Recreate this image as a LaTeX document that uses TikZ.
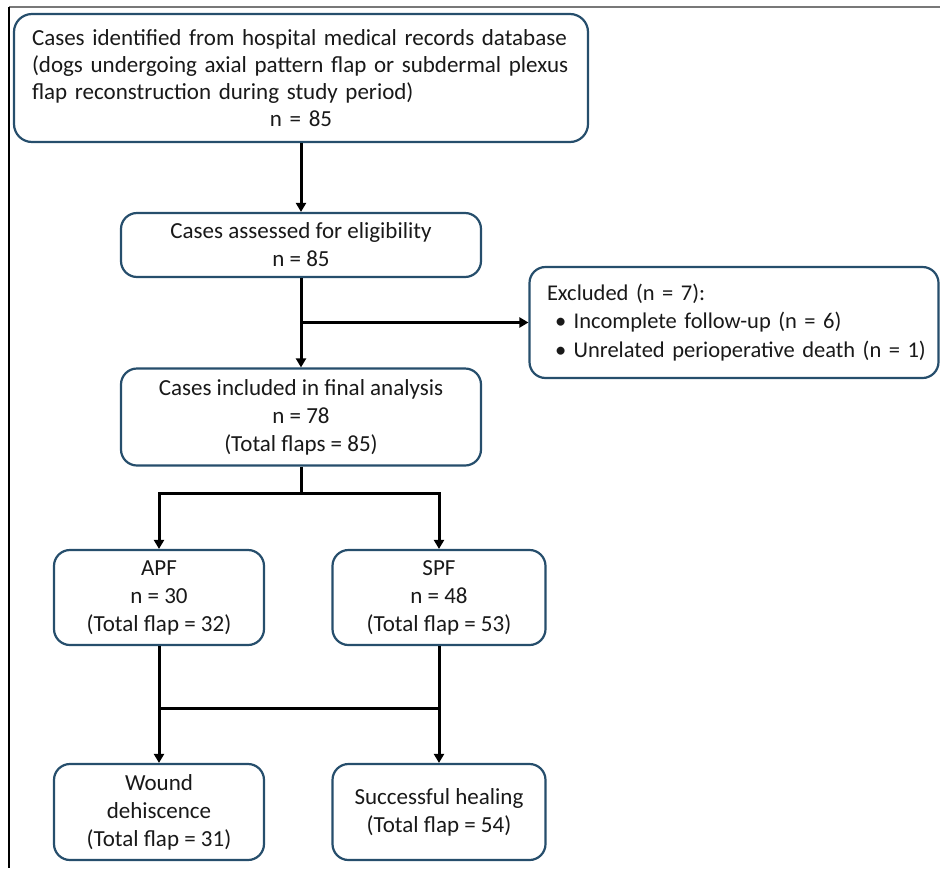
\documentclass[tikz,border=0pt]{standalone}
\usepackage{fontspec}
\setmainfont{Carlito}
\usetikzlibrary{arrows.meta}
\definecolor{boxblue}{RGB}{38,78,108}
\definecolor{framegray}{RGB}{120,120,120}
\begin{document}
\begin{tikzpicture}[x=1pt,y=-1pt,
  fbox/.style={draw=boxblue, line width=2.2pt, rounded corners=16pt, fill=white,
    inner sep=0pt, font=\fontsize{23}{28}\selectfont, align=center, text=black!90},
  conn/.style={line width=3pt, black},
  arr/.style={conn, -{Triangle[width=10pt,length=9pt]}}]
\useasboundingbox (0,0) rectangle (940,868);
% frame
\coordinate (ftl) at (9,7);
\coordinate (ftr) at (940,7);
\coordinate (fbl) at (9,868);
\draw[framegray, line width=1.8pt] (ftl) -- (ftr);
\draw[black, line width=1.4pt] (ftl) -- (fbl);
% boxes
\node[fbox, rounded corners=18pt, minimum width=574pt, minimum height=128pt, text width=538pt, align=left,
  font=\fontsize{23}{27}\selectfont] (b1) at (301,78)
  {Cases identified from hospital medical records database\\
   (dogs undergoing axial pattern flap or subdermal plexus\\
   flap reconstruction during study period)\\
   \makebox[\linewidth]{n = 85}};
\node[fbox, minimum width=360pt, minimum height=64pt] (b2) at (301,245)
  {Cases assessed for eligibility\\n = 85};
\node[fbox, minimum width=409pt, minimum height=111pt, text width=374pt, align=left,
  font=\fontsize{22.5}{28.5}\selectfont] (ex) at (734,322.5)
  {\mbox{Excluded (n = 7):}\\
   \mbox{\hspace*{8pt}• Incomplete follow-up (n = 6)}\\
   \mbox{\hspace*{8pt}• Unrelated perioperative death (n = 1)}};
\node[fbox, minimum width=360pt, minimum height=97pt] (b3) at (301,417)
  {Cases included in final analysis\\n = 78\\(Total flaps = 85)};
\node[fbox, minimum width=210pt, minimum height=95pt] (apf) at (159,597.5)
  {APF\\n = 30\\(Total flap = 32)};
\node[fbox, minimum width=213pt, minimum height=95pt] (spf) at (439,597.5)
  {SPF\\n = 48\\(Total flap = 53)};
\node[fbox, minimum width=210pt, minimum height=96pt] (wd) at (159,812)
  {Wound\\dehiscence\\(Total flap = 31)};
\node[fbox, minimum width=213pt, minimum height=96pt] (sh) at (439,812)
  {Successful healing\\(Total flap = 54)};
% connectors
\coordinate (j1) at (301,322.5);
\coordinate (j2) at (301,493);
\coordinate (m1) at (159,708);
\coordinate (m2) at (439,708);
\draw[arr] (b1.south) -- (b2.north);
\draw[arr] (b2.south) -- (b3.north);
\draw[arr] (j1) -- (ex.west);
\draw[arr] (b3.south) -- (j2) -| (apf.north);
\draw[arr] (j2) -| (spf.north);
\draw[arr] (apf.south) -- (wd.north);
\draw[arr] (spf.south) -- (sh.north);
\draw[conn] (m1) -- (m2);
\end{tikzpicture}
\end{document}
